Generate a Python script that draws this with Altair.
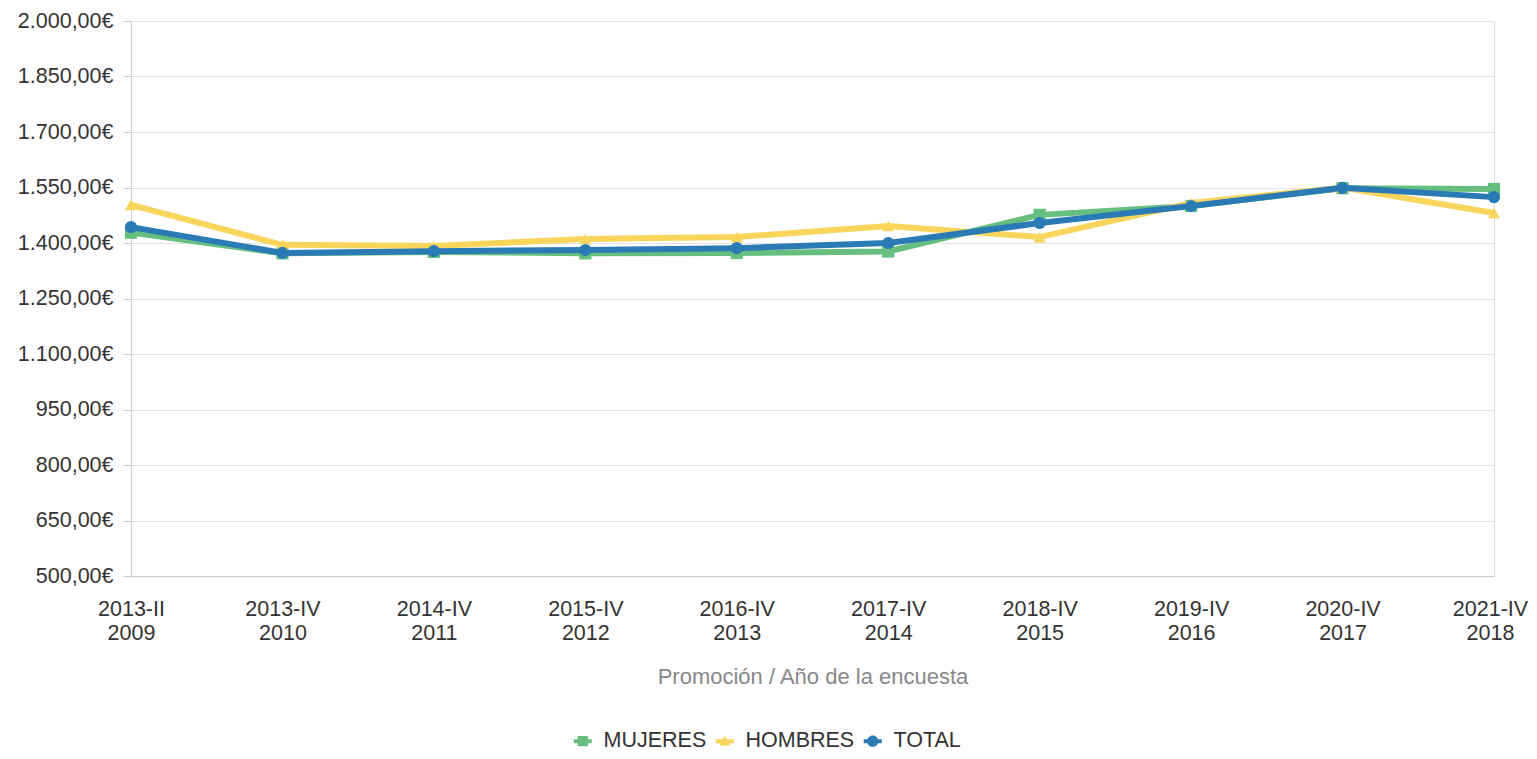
import altair as alt
import pandas as pd

categories = ["2013-II|2009", "2013-IV|2010", "2014-IV|2011", "2015-IV|2012", "2016-IV|2013",
              "2017-IV|2014", "2018-IV|2015", "2019-IV|2016", "2020-IV|2017", "2021-IV|2018"]
mujeres = [1428, 1372, 1376, 1372, 1373, 1377, 1476, 1500, 1548, 1546]
hombres = [1503, 1395, 1392, 1411, 1416, 1446, 1416, 1508, 1550, 1481]
total = [1443, 1373, 1378, 1381, 1386, 1400, 1454, 1500, 1549, 1524]

series_names = ["MUJERES", "HOMBRES", "TOTAL"]
series_colors = ["#67BF7F", "#F9D55C", "#2A7BB5"]
series_shapes = ["square", "triangle-up", "circle"]
y_ticks = [500, 650, 800, 950, 1100, 1250, 1400, 1550, 1700, 1850, 2000]

rows = []
for name, vals in zip(series_names, [mujeres, hombres, total]):
    for c, v in zip(categories, vals):
        rows.append({"cat": c, "serie": name, "valor": v})
df = pd.DataFrame(rows)

FS = 21.5

# legend glyphs (unit = 8 px with symbolSize 256): line segment + marker
line_path = "M-1.125,-0.25H1.125V0.25H-1.125Z"
legend_paths = [
    line_path + " M-0.65,-0.65H0.65V0.65H-0.65Z",
    line_path + " M0,-0.7L0.7,0.55H-0.7Z",
    line_path + " M-0.7,0A0.7,0.7 0 1,1 0.7,0A0.7,0.7 0 1,1 -0.7,0Z",
]

x_enc = alt.X("cat:N", sort=categories,
              scale=alt.Scale(type="point", padding=0),
              axis=alt.Axis(title="Promoción / Año de la encuesta",
                            labelExpr="split(datum.label, '|')",
                            labelOffset={"condition": {"test": "datum.value == '2021-IV|2018'", "value": -4},
                                         "value": 0},
                            labelAngle=0, labelFontSize=FS, labelColor="#333333",
                            labelLineHeight=24, labelPadding=22, ticks=False,
                            domainColor="#cccccc", grid=False,
                            titleFontSize=22, titleColor="#888888", titleFontWeight="normal",
                            titlePadding=23))
y_enc = alt.Y("valor:Q",
              scale=alt.Scale(domain=[500, 2000], nice=False, zero=False),
              axis=alt.Axis(title=None, values=y_ticks,
                            labelExpr="replace(replace(replace(format(datum.value, ',.2f'), ',', '#'), '.', ','), '#', '.') + '€'",
                            labelFontSize=FS, labelColor="#333333", labelPadding=10,
                            tickSize=8, tickColor="#cccccc", domainColor="#cccccc",
                            gridColor="#e3e3e3"))

layers = []
for name, col, shp in zip(series_names, series_colors, series_shapes):
    sub = alt.Chart(df).transform_filter(alt.datum.serie == name)
    layers.append(sub.mark_line(strokeWidth=6, color=col).encode(x=x_enc, y=y_enc))
    layers.append(sub.mark_point(filled=True, size=150, opacity=1, shape=shp, color=col)
                  .encode(x=x_enc, y=y_enc))

leg = alt.Legend(title=None, orient="none", direction="horizontal",
                 legendX=441, legendY=709,
                 labelFontSize=FS, labelColor="#333333",
                 symbolSize=256, labelOffset=10, columnPadding=7)

legend_layer = alt.Chart(df).transform_filter("false").mark_point(filled=True, opacity=1).encode(
    x=x_enc, y=y_enc,
    color=alt.Color("serie:N", scale=alt.Scale(domain=series_names, range=series_colors), legend=leg),
    shape=alt.Shape("serie:N", scale=alt.Scale(domain=series_names, range=legend_paths), legend=leg),
)
layers.append(legend_layer)

chart = alt.layer(*layers).properties(
    width=1363, height=555,
    autosize=alt.AutoSizeParams(type="none"),
    padding={"left": 123, "top": 13, "right": 35, "bottom": 176},
).configure_view(stroke=None).configure(font="Liberation Sans")

chart.save("out.html", embed_options={"renderer": "svg", "actions": False})
